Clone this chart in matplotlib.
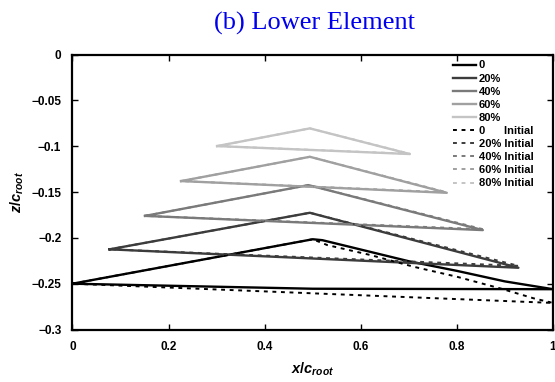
import matplotlib
matplotlib.use("Agg")
import matplotlib.pyplot as plt

plt.rcParams['font.family'] = ['Liberation Sans', 'DejaVu Sans']
plt.rcParams['mathtext.fontset'] = 'custom'
plt.rcParams['mathtext.it'] = 'Liberation Sans:italic:bold'
plt.rcParams['mathtext.rm'] = 'Liberation Sans:bold'

# ---- data (x/c_root, z/c_root) ----
labels = ["0", "20%", "40%", "60%", "80%"]
colors = ["#000000", "#3c3c3c", "#7a7a7a", "#a0a0a0", "#c4c4c4"]

x_0 = [0.0, 0.50, 0.52, 0.70, 0.80, 0.90, 1.0, 0.5, 0.0]
z_0 = [-0.25, -0.2015, -0.2025, -0.2255, -0.236, -0.2475, -0.256, -0.2555, -0.25]
x_0i = [0.0, 0.50, 0.53, 0.62, 0.71, 0.80, 0.89, 0.96, 1.0, 0.5, 0.0]
z_0i = [-0.25, -0.2015, -0.2078, -0.2187, -0.2315, -0.2424, -0.2551, -0.266, -0.271, -0.2605, -0.25]

x_20 = [0.077, 0.494, 0.928, 0.077]
z_20 = [-0.2125, -0.1726, -0.2326, -0.2125]
z_20i = [-0.2125, -0.1726, -0.2305, -0.2125]

x_40 = [0.151, 0.491, 0.854, 0.151]
z_40 = [-0.176, -0.1424, -0.1915, -0.176]
z_40i = [-0.176, -0.1424, -0.1905, -0.176]

x_60 = [0.226, 0.494, 0.779, 0.226]
z_60 = [-0.138, -0.1115, -0.1508, -0.138]
z_60i = [-0.138, -0.1115, -0.1502, -0.138]

x_80 = [0.301, 0.494, 0.702, 0.301]
z_80 = [-0.0998, -0.0805, -0.1085, -0.0998]
z_80i = [-0.0998, -0.0805, -0.1082, -0.0998]

final = [(x_0, z_0), (x_20, z_20), (x_40, z_40), (x_60, z_60), (x_80, z_80)]
initial = [(x_0i, z_0i), (x_20, z_20i), (x_40, z_40i), (x_60, z_60i), (x_80, z_80i)]

xticks = [0, 0.2, 0.4, 0.6, 0.8, 1]
xticklabels = ["0", "0.2", "0.4", "0.6", "0.8", "1"]
yticks = [0, -0.05, -0.1, -0.15, -0.2, -0.25, -0.3]
yticklabels = ["0", "\u22120.05", "\u22120.1", "\u22120.15", "\u22120.2", "\u22120.25", "\u22120.3"]

fig = plt.figure(figsize=(5.55, 3.82), dpi=100)
ax = fig.add_axes([0.1306, 0.1374, 0.8658, 0.7196])

for (x, z), lab, c in zip(final, labels, colors):
    ax.plot(x, z, color=c, lw=1.7, label=lab, solid_joinstyle='round')
init_labels = ["0      Initial", "20% Initial", "40% Initial", "60% Initial", "80% Initial"]
for (x, z), lab, c in zip(initial, init_labels, colors):
    ax.plot(x, z, color=c, lw=1.4, ls=(0, (2, 2.4)), label=lab)

ax.set_xlim(0, 1)
ax.set_ylim(-0.3, 0)
ax.set_xticks(xticks)
ax.set_xticklabels(xticklabels, fontweight='bold', fontsize=8.5)
ax.set_yticks(yticks)
ax.set_yticklabels(yticklabels, fontweight='bold', fontsize=8.5)
ax.tick_params(direction='in', length=4, width=1, top=True, right=True, pad=8)
for s in ax.spines.values():
    s.set_linewidth(1.6)

ax.set_xlabel(r'$x/c_{root}$', fontsize=10.5, labelpad=6)
ax.set_ylabel(r'$z/c_{root}$', fontsize=10.5, labelpad=4)

leg = ax.legend(loc='upper left', bbox_to_anchor=(0.792, 0.979), frameon=False,
                prop={'weight': 'bold', 'size': 8}, handlelength=2.1,
                handletextpad=0.2, labelspacing=0.28, borderaxespad=0.0,
                borderpad=0.0)

fig.text(0.567, 0.938, "(b) Lower Element", color='#0000ee', fontsize=19,
         family='Liberation Serif', ha='center', va='center')

fig.savefig("out.png", dpi=100)
